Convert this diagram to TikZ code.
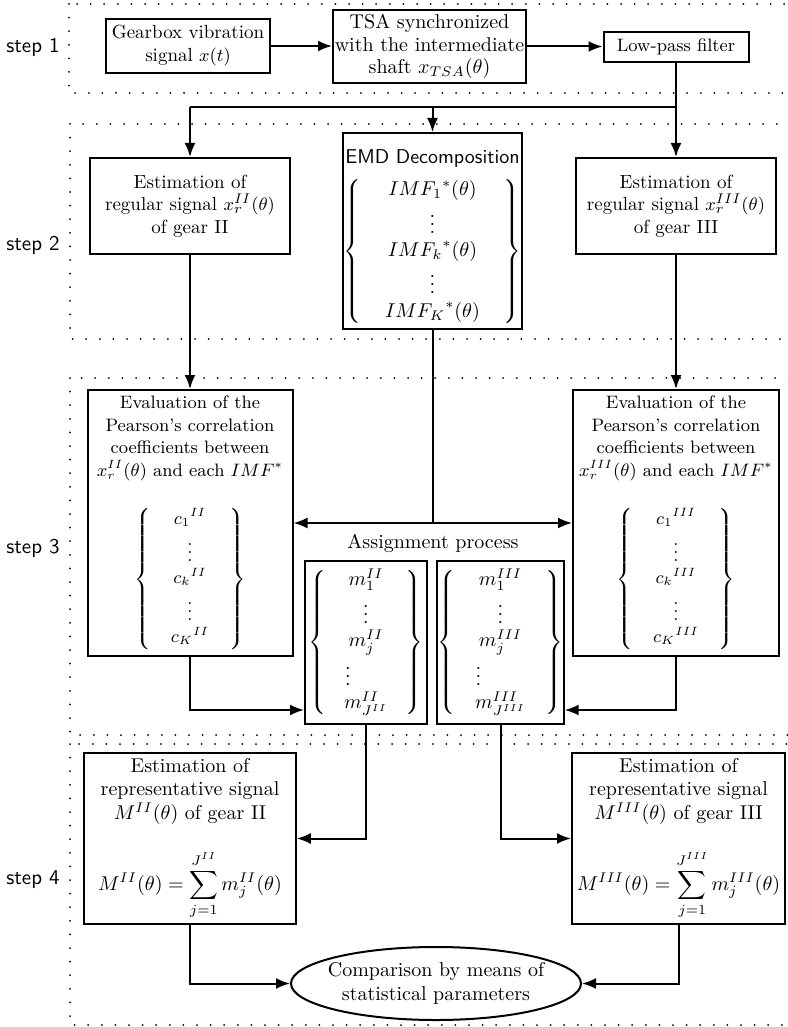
\documentclass[tikz,border=0pt]{standalone}
\usepackage{amsmath}
\usetikzlibrary{arrows.meta,shapes.geometric}
\begin{document}
\begin{tikzpicture}[x=0.5pt,y=-0.5pt,
  box/.style={draw,line width=1pt,align=center,inner sep=0pt,font=\fontsize{10}{11.8}\selectfont},
  ellbox/.style={box,ellipse,inner xsep=-10pt,inner ysep=0pt},
  plain/.style={align=center,inner sep=0pt,font=\fontsize{10}{11.8}\selectfont},
  conn/.style={line width=1pt},
  arr/.style={conn,-{Latex[length=7pt,width=5.5pt]}},
  region/.style={line width=1pt,line cap=round,dash pattern=on 0pt off 6.8pt},
  steplabel/.style={font=\sffamily\fontsize{10.5}{12}\selectfont,inner sep=0pt},
]
\useasboundingbox (0,0) rectangle (787,1027);

% dotted step regions
\draw[region] (69,4) rectangle (800,93);
\draw[region] (70,124) rectangle (800,339);
\draw[region] (70,378) rectangle (800,735);
\draw[region] (70,744) rectangle (800,1025);

% step labels
\node[steplabel] (s1) at (33,47) {step 1};
\node[steplabel] (s2) at (33,245) {step 2};
\node[steplabel] (s3) at (33,548) {step 3};
\node[steplabel] (s4) at (33,880) {step 4};

% step 1
\node[box,minimum width=82pt,minimum height=27pt,font=\fontsize{9.5}{11.5}\selectfont] (gear) at (188,46) {Gearbox vibration\\ signal $x(t)$};
\node[box,minimum width=96.5pt,minimum height=36.5pt,font=\fontsize{10}{11.3}\selectfont] (tsa) at (429.5,46.5) {TSA synchronized\\ with the intermediate\\ shaft $x_{TSA}(\theta)$};
\node[box,minimum width=72.5pt,minimum height=15pt,font=\fontsize{9}{11}\selectfont] (lp) at (676,47) {Low-pass filter};

% step 2
\node[box,minimum width=100pt,minimum height=48pt,font=\fontsize{9.5}{11.3}\selectfont] (est2) at (190,206) {Estimation of\\ regular signal $x_r^{II}(\theta)$\\ of gear II};
\node[box,minimum width=88.5pt,minimum height=98pt] (emd) at (432.5,231) {{\sffamily\rule{0pt}{13pt}EMD Decomposition}\\[5pt]
$\left\{\begin{array}{@{\hspace{12pt}}c@{\hspace{12pt}}} {IMF_1}^*(\theta)\\ \vdots\\ {IMF_k}^*(\theta)\\ \vdots\\ {IMF_K}^*(\theta)\end{array}\right\}$};
\node[box,minimum width=100pt,minimum height=48pt,font=\fontsize{9.5}{11.3}\selectfont] (est3) at (676,206) {Estimation of\\ regular signal $x_r^{III}(\theta)$\\ of gear III};

% step 3
\node[box,minimum width=102.5pt,minimum height=133pt,font=\fontsize{9}{11.2}\selectfont] (p2) at (190,523) {Evaluation of the\\ Pearson's correlation\\ coefficients between\\ $x_r^{II}(\theta)$ and each $IMF^*$\\[13pt]
$\left\{\begin{array}{@{\hspace{10pt}}c@{\hspace{10pt}}} {c_1}^{II}\\ \vdots\\ {c_k}^{II}\\ \vdots\\ {c_K}^{II}\end{array}\right\}$};
\node[box,minimum width=103pt,minimum height=133pt,font=\fontsize{9}{11.2}\selectfont] (p3) at (676,523) {Evaluation of the\\ Pearson's correlation\\ coefficients between\\ $x_r^{III}(\theta)$ and each $IMF^*$\\[13pt]
$\left\{\begin{array}{@{\hspace{10pt}}c@{\hspace{10pt}}} {c_1}^{III}\\ \vdots\\ {c_k}^{III}\\ \vdots\\ {c_K}^{III}\end{array}\right\}$};
\node[plain] (assign) at (433,543) {Assignment process};
\node[box,minimum width=61pt,minimum height=81.5pt] (m2) at (366,642.5) {$\left\{\begin{array}{@{\hspace{9pt}}c@{\hspace{9pt}}} m_1^{II}\\ \vdots\\ m_j^{II}\\ \vdots\hspace{18pt}\\ m_{J^{II}}^{II}\end{array}\right\}$};
\node[box,minimum width=61.5pt,minimum height=81.5pt] (m3) at (500.5,642.5) {$\left\{\begin{array}{@{\hspace{10pt}}c@{\hspace{10pt}}} m_1^{III}\\ \vdots\\ m_j^{III}\\ \vdots\hspace{22pt}\\ m_{J^{III}}^{III}\end{array}\right\}$};

% step 4
\node[box,minimum width=105.75pt,minimum height=85.5pt] (rep2) at (190,838.5) {Estimation of\\ representative signal\\ $M^{II}(\theta)$ of gear II\\[12pt]
$\displaystyle M^{II}(\theta)=\sum_{j=1}^{J^{II}} m_j^{II}(\theta)$};
\node[box,minimum width=106.5pt,minimum height=85.5pt] (rep3) at (678.5,838.5) {Estimation of\\ representative signal\\ $M^{III}(\theta)$ of gear III\\[12pt]
$\displaystyle M^{III}(\theta)=\sum_{j=1}^{J^{III}} m_j^{III}(\theta)$};
\node[ellbox,minimum width=145pt,minimum height=36.5pt] (ell) at (436,983.5) {Comparison by means of\\ statistical parameters};

% connectors
\draw[arr] (gear.east) -- (gear.east -| tsa.west);
\draw[arr] (tsa.east) -- (tsa.east -| lp.west);
\coordinate (split) at (676,107);
\coordinate (splitL) at (190,107);
\draw[conn] (lp.south) -- (split) -- (splitL);
\draw[arr] (split) -- (est3.north);
\draw[arr] (splitL) -- (est2.north);
\draw[arr] (split -| emd.north) -- (emd.north);
\draw[arr] (est2.south) -- (p2.north);
\draw[arr] (est3.south) -- (p3.north);
\coordinate (tj) at (432.5,523);
\draw[conn] (emd.south) -- (tj);
\draw[arr] (tj) -- (tj -| p2.east);
\draw[arr] (tj) -- (tj -| p3.west);
\draw[arr] (p2.south) |- (m2.west |- 0,710);
\draw[arr] (p3.south) |- (m3.east |- 0,710);
\draw[arr] (m2.south) |- (rep2.east);
\draw[arr] (m3.south) |- (rep3.west);
\draw[arr] (rep2.south) |- (ell.west);
\draw[arr] (rep3.south) |- (ell.east);
\end{tikzpicture}
\end{document}
